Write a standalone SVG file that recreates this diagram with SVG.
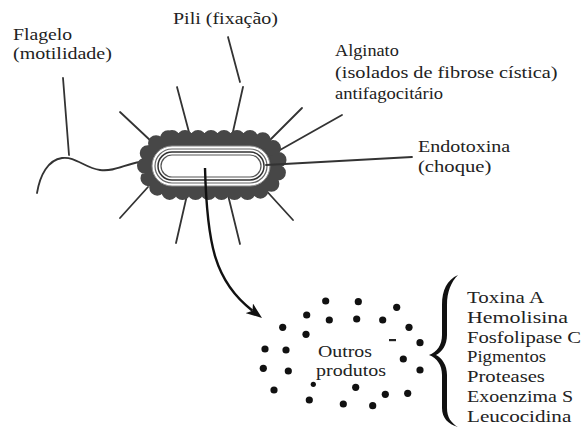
<svg xmlns="http://www.w3.org/2000/svg" width="582" height="430" viewBox="0 0 582 430">
  <style>
    .line { stroke: #333; stroke-width: 1.8; fill: none; stroke-linecap: round; }
    .dot { fill: #111; }
  </style>
  <defs>
    <marker id="arrowhead" markerUnits="userSpaceOnUse" viewBox="0 0 16 12" refX="4" refY="6" markerWidth="16" markerHeight="12" orient="auto">
      <path d="M0,0 L16,6 L0,12 L4,6 z" fill="#111"/>
    </marker>
  </defs>
  <rect width="582" height="430" fill="#fff"/>

  <!-- pili, flagellum and leader lines (under the capsule) -->
  <g id="connectors">
    <path class="line" d="M63,78 L69,155"/>
    <path class="line" d="M228,37 L240,82"/>
    <path class="line" d="M37,193 C40,175 48,160 62,158 C75,156 85,168 100,170 C115,172 125,164 140,162"/>
    <path class="line" d="M120,112 L152,142"/>
    <path class="line" d="M177,87 L190,136"/>
    <path class="line" d="M243,87 L232,136"/>
    <path class="line" d="M302,108 L270,140"/>
    <path class="line" d="M342,115 L280,150"/>
    <path class="line" d="M148,187 L120,218"/>
    <path class="line" d="M187,195 L176,243"/>
    <path class="line" d="M228,195 L240,244"/>
    <path class="line" d="M262,186 L293,220"/>
  </g>

  <!-- bacterial cell: scalloped capsule with concentric envelope layers -->
  <g id="bacterium">
    <rect x="145" y="138" width="134" height="54" rx="27" fill="#474747"/>
    <rect x="145" y="138" width="134" height="54" rx="27" fill="none" stroke="#474747" stroke-width="16" stroke-dasharray="0 13" stroke-linecap="round"/>
    <rect x="152" y="146" width="118" height="40" rx="20" fill="#fff" stroke="#8a8a8a" stroke-width="1"/>
    <rect x="155" y="149" width="112" height="34" rx="17" fill="none" stroke="#666" stroke-width="1.2"/>
    <rect x="158" y="152" width="106" height="28" rx="14" fill="none" stroke="#333" stroke-width="1.5"/>
    <rect x="161" y="155" width="100" height="22" rx="11" fill="#fff" stroke="#555" stroke-width="1.2"/>
  </g>

  <g id="endotoxin-line">
    <path class="line" d="M266,165 L412,157"/>
  </g>

  <g id="release-arrow">
    <path d="M205,168 C207,245 215,282 252.5,310.7" fill="none" stroke="#111" stroke-width="2.4" marker-end="url(#arrowhead)"/>
  </g>

  <!-- secreted products (dots) -->
  <g id="product-dots">
    <circle class="dot" cx="325.7" cy="301" r="3.6"/>
    <circle class="dot" cx="358.3" cy="301.7" r="3.6"/>
    <circle class="dot" cx="396.7" cy="307.3" r="3.6"/>
    <circle class="dot" cx="306.7" cy="315" r="3.6"/>
    <circle class="dot" cx="329.3" cy="320" r="3.6"/>
    <circle class="dot" cx="356.7" cy="319" r="3.6"/>
    <circle class="dot" cx="382.7" cy="320" r="3.6"/>
    <circle class="dot" cx="282.7" cy="327.3" r="3.6"/>
    <circle class="dot" cx="306" cy="334.3" r="3.6"/>
    <circle class="dot" cx="409" cy="327.3" r="3.6"/>
    <rect x="389" y="339" width="7" height="2.2" fill="#222"/>
    <circle class="dot" cx="420" cy="342.7" r="3.6"/>
    <circle class="dot" cx="265" cy="349" r="3.6"/>
    <circle class="dot" cx="286" cy="350" r="3.6"/>
    <circle class="dot" cx="403.3" cy="359" r="3.6"/>
    <circle class="dot" cx="263.3" cy="368.3" r="3.6"/>
    <circle class="dot" cx="288.3" cy="371" r="3.6"/>
    <circle class="dot" cx="420" cy="370" r="3.6"/>
    <circle class="dot" cx="313.3" cy="384.3" r="2.6"/>
    <circle class="dot" cx="355.7" cy="387.3" r="3.6"/>
    <circle class="dot" cx="274" cy="390" r="3.6"/>
    <circle class="dot" cx="385.3" cy="394.3" r="3.6"/>
    <circle class="dot" cx="407.7" cy="393.3" r="3.6"/>
    <circle class="dot" cx="309.3" cy="400" r="3.6"/>
    <circle class="dot" cx="343.3" cy="404" r="3.6"/>
    <circle class="dot" cx="372.7" cy="405.7" r="3.6"/>
  </g>

  <g id="brace">
    <path d="M458,275 C447,280 442,290 442,305 L442,335 C442,345 437,352 429,355 C437,358 442,365 442,375 L442,408 C442,418 448,424 458,427 C451,423 447,417 447,408 L447,375 C447,365 442,358 436,355 C442,352 447,345 447,335 L447,305 C447,292 451,282 458,275 Z" fill="#111"/>
  </g>

  <!-- labels: a serif face, widened horizontally -->
  <g id="flagelo">
    <text font-family="Liberation Serif" font-size="16" fill="#222" transform="translate(13,39.5) scale(1.23,1)">Flagelo</text>
    <text font-family="Liberation Serif" font-size="16" fill="#222" transform="translate(13,59) scale(1.25,1)">(motilidade)</text>
  </g>
  <g id="pili">
    <text font-family="Liberation Serif" font-size="16" fill="#222" transform="translate(173,24) scale(1.25,1)">Pili (fixação)</text>
  </g>
  <g id="alginato">
    <text font-family="Liberation Serif" font-size="16" fill="#222" transform="translate(335,56) scale(1.14,1)">Alginato</text>
    <text font-family="Liberation Serif" font-size="16" fill="#222" transform="translate(335,77.5) scale(1.27,1)">(isolados de fibrose cística)</text>
    <text font-family="Liberation Serif" font-size="16" fill="#222" transform="translate(335,99) scale(1.16,1)">antifagocitário</text>
  </g>
  <g id="endotoxina">
    <text font-family="Liberation Serif" font-size="16" fill="#222" transform="translate(418,152) scale(1.25,1)">Endotoxina</text>
    <text font-family="Liberation Serif" font-size="16" fill="#222" transform="translate(418,171.5) scale(1.29,1)">(choque)</text>
  </g>
  <g id="outros-produtos">
    <text font-family="Liberation Serif" font-size="16" fill="#222" transform="translate(318,357) scale(1.24,1)">Outros</text>
    <text font-family="Liberation Serif" font-size="16" fill="#222" transform="translate(316,376) scale(1.25,1)">produtos</text>
  </g>
  <g id="product-list">
    <text font-family="Liberation Serif" font-size="16" fill="#222" transform="translate(467,303) scale(1.31,1)">Toxina A</text>
    <text font-family="Liberation Serif" font-size="16" fill="#222" transform="translate(467,322.8) scale(1.37,1)">Hemolisina</text>
    <text font-family="Liberation Serif" font-size="16" fill="#222" transform="translate(467,342.6) scale(1.29,1)">Fosfolipase C</text>
    <text font-family="Liberation Serif" font-size="16" fill="#222" transform="translate(467,362.4) scale(1.17,1)">Pigmentos</text>
    <text font-family="Liberation Serif" font-size="16" fill="#222" transform="translate(467,382.2) scale(1.29,1)">Proteases</text>
    <text font-family="Liberation Serif" font-size="16" fill="#222" transform="translate(467,402) scale(1.25,1)">Exoenzima S</text>
    <text font-family="Liberation Serif" font-size="16" fill="#222" transform="translate(467,421.8) scale(1.32,1)">Leucocidina</text>
  </g>
</svg>
